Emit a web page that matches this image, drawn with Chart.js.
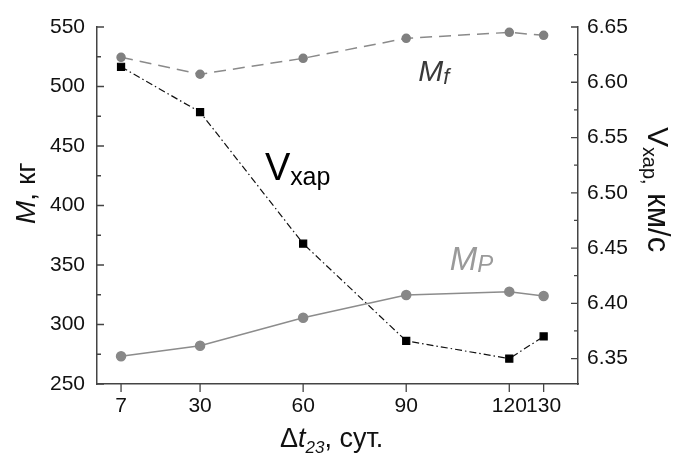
<!DOCTYPE html>
<html>
<head>
<meta charset="utf-8">
<script src="https://cdn.jsdelivr.net/npm/chart.js@4.4.1/dist/chart.umd.min.js"></script>
<style>
  html, body { margin: 0; padding: 0; background: #fff; }
  #wrap { width: 673px; height: 457px; }
</style>
</head>
<body>
<div id="wrap"><canvas id="chart" width="673" height="457"></canvas></div>
<script>
// --- values ---
const days = [7, 30, 60, 90, 120, 130];                          // Δt23, сут.
const massFinal = [524.5, 510.3, 523.7, 540.5, 545.5, 543.0];    // M_f, кг
const massProp = [273.3, 282.2, 305.7, 324.8, 327.6, 324.0];     // M_P, кг
const deltaV = [6.614, 6.573, 6.454, 6.366, 6.350, 6.370];       // V_хар, км/с

// tick labels
const xTicks = [7, 30, 60, 90, 120, 130];
const massTicks = [250, 300, 350, 400, 450, 500, 550];
const velTicks = [6.35, 6.40, 6.45, 6.50, 6.55, 6.60, 6.65];

const FONT = "'Liberation Sans', Arial, sans-serif";
const AXIS = '#444';

function pts(ys) {
    return days.map((d, i) => ({ x: d, y: ys[i] }));
}

// draw a row of text pieces with different fonts (for subscripts / italics)
function drawRuns(ctx, x, y, runs) {
    let cx = x;
    runs.forEach(r => {
        ctx.font = r.font;
        ctx.fillStyle = r.color || '#111';
        ctx.fillText(r.text, cx, y + (r.dy || 0));
        cx += ctx.measureText(r.text).width;
    });
}

// --- tick marks (inside on y axes, outside on x) and all the extra text ---
const decor = {
    id: 'decor',
    afterDraw(chart) {
        const { ctx, chartArea: a, scales } = chart;
        const x = scales.x, y = scales.y, y2 = scales.y2;
        ctx.save();
        ctx.strokeStyle = AXIS;
        ctx.lineWidth = 1.3;
        ctx.beginPath();
        massTicks.forEach((v, i) => {
            const p = y.getPixelForValue(v);
            ctx.moveTo(a.left, p); ctx.lineTo(a.left + 7, p);
            if (i < massTicks.length - 1) {
                const m = y.getPixelForValue((v + massTicks[i + 1]) / 2);
                ctx.moveTo(a.left, m); ctx.lineTo(a.left + 4, m);
            }
        });
        velTicks.forEach((v, i) => {
            const p = y2.getPixelForValue(v);
            ctx.moveTo(a.right, p); ctx.lineTo(a.right - 7, p);
            if (i < velTicks.length - 1) {
                const m = y2.getPixelForValue((v + velTicks[i + 1]) / 2);
                ctx.moveTo(a.right, m); ctx.lineTo(a.right - 4, m);
            }
        });
        xTicks.forEach(v => {
            const p = x.getPixelForValue(v);
            ctx.moveTo(p, a.bottom); ctx.lineTo(p, a.bottom + 8);
        });
        ctx.stroke();

        ctx.textAlign = 'left';
        ctx.textBaseline = 'alphabetic';

        // curve labels
        drawRuns(ctx, x.getPixelForValue(93.5), y.getPixelForValue(505), [
            { text: 'M', font: 'italic 30px ' + FONT, color: '#3a3a3a' },
            { text: 'f', font: 'italic 22px ' + FONT, color: '#3a3a3a', dy: 3 }
        ]);
        drawRuns(ctx, x.getPixelForValue(48.9), y.getPixelForValue(421.4), [
            { text: 'V', font: '38px ' + FONT, color: '#000' },
            { text: 'хар', font: '25px ' + FONT, color: '#000', dy: 5 }
        ]);
        drawRuns(ctx, x.getPixelForValue(102.7), y.getPixelForValue(345.8), [
            { text: 'M', font: 'italic 33px ' + FONT, color: '#9a9a9a' },
            { text: 'P', font: 'italic 24px ' + FONT, color: '#9a9a9a', dy: 2 }
        ]);

        // x title
        drawRuns(ctx, 280, 447, [
            { text: 'Δ', font: '27px ' + FONT },
            { text: 't', font: 'italic 27px ' + FONT },
            { text: '23', font: 'italic 17px ' + FONT, dy: 6 },
            { text: ', сут.', font: '27px ' + FONT }
        ]);

        // left title
        ctx.save();
        ctx.translate(35, 224);
        ctx.rotate(-Math.PI / 2);
        drawRuns(ctx, 0, 0, [
            { text: 'M', font: 'italic 28px ' + FONT },
            { text: ', кг', font: '28px ' + FONT }
        ]);
        ctx.restore();

        // right title
        ctx.save();
        ctx.translate(648, 127);
        ctx.rotate(Math.PI / 2);
        drawRuns(ctx, 0, 0, [
            { text: 'V', font: '30px ' + FONT },
            { text: 'хар,', font: '20px ' + FONT, dy: 5 },
            { text: ' км/с', font: '31px ' + FONT }
        ]);
        ctx.restore();

        ctx.restore();
    }
};

const ctx = document.getElementById('chart').getContext('2d');
const chart = new Chart(ctx, {
    type: 'line',
    data: {
        datasets: [
            {
                label: 'M_f',
                data: pts(massFinal),
                yAxisID: 'y',
                borderColor: '#8a8a8a',
                borderWidth: 1.5,
                borderDash: [12, 7],
                pointStyle: 'circle',
                pointRadius: 4,
                pointBackgroundColor: '#808080',
                pointBorderColor: '#808080',
                tension: 0
            },
            {
                label: 'M_P',
                data: pts(massProp),
                yAxisID: 'y',
                borderColor: '#8c8c8c',
                borderWidth: 1.5,
                pointStyle: 'circle',
                pointRadius: 4.5,
                pointBackgroundColor: '#888',
                pointBorderColor: '#888',
                tension: 0
            },
            {
                label: 'V_хар',
                data: pts(deltaV),
                yAxisID: 'y2',
                borderColor: '#111',
                borderWidth: 1.2,
                borderDash: [7, 3, 1.5, 3],
                pointStyle: 'rect',
                pointRadius: 5,
                pointBackgroundColor: '#000',
                pointBorderColor: '#000',
                tension: 0
            }
        ]
    },
    options: {
        responsive: false,
        animation: false,
        devicePixelRatio: 1,
        layout: { padding: { top: 27, left: 0, right: 0, bottom: 0 } },
        plugins: {
            legend: { display: false },
            tooltip: { enabled: false }
        },
        scales: {
            x: {
                type: 'linear',
                min: 0,
                max: 140,
                afterBuildTicks: s => { s.ticks = xTicks.map(v => ({ value: v })); },
                afterFit: s => { s.height = 73; },
                grid: { display: false, drawTicks: false },
                border: { display: true, color: AXIS, width: 1.5 },
                ticks: {
                    autoSkip: false,
                    maxRotation: 0,
                    padding: 10,
                    color: '#111',
                    font: { family: FONT, size: 21 }
                }
            },
            y: {
                position: 'left',
                min: 250,
                max: 550,
                afterBuildTicks: s => { s.ticks = massTicks.map(v => ({ value: v })); },
                afterFit: s => { s.width = 97; },
                grid: { display: false, drawTicks: false },
                border: { display: true, color: AXIS, width: 1.5 },
                ticks: {
                    padding: 12,
                    color: '#111',
                    font: { family: FONT, size: 21 }
                }
            },
            y2: {
                position: 'right',
                min: 6.327,
                max: 6.65,
                afterBuildTicks: s => { s.ticks = velTicks.map(v => ({ value: v })); },
                afterFit: s => { s.width = 95; },
                grid: { display: false, drawTicks: false },
                border: { display: true, color: AXIS, width: 1.5 },
                ticks: {
                    padding: 9,
                    color: '#111',
                    font: { family: FONT, size: 21 },
                    callback: v => v.toFixed(2)
                }
            }
        }
    },
    plugins: [decor]
});
</script>
</body>
</html>
